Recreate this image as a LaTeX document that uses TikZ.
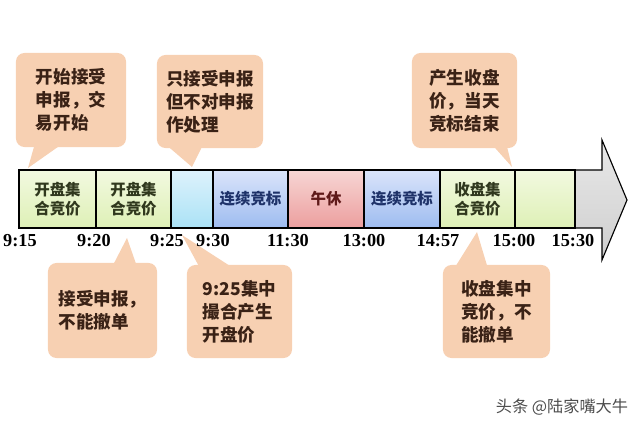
\documentclass[tikz,border=0pt]{standalone}
\usepackage{fontspec}
\setmainfont{Liberation Serif}
\newfontfamily\cjk{Noto Sans CJK SC}
\usetikzlibrary{positioning, calc}
\definecolor{peach}{RGB}{247,208,178}
\definecolor{calltext}{RGB}{58,34,22}
\definecolor{greentext}{RGB}{48,56,30}
\definecolor{bluetext}{RGB}{30,50,105}
\definecolor{redtext}{RGB}{95,25,25}
\tikzstyle{callout} = [rectangle, rounded corners=6pt, align=left, fill=peach, text=calltext, font=\cjk\bfseries\fontsize{12.5}{16.3}\selectfont]
\tikzstyle{pointer} = [fill=peach]
\tikzstyle{seg} = [rectangle, draw=black, thick, minimum height=1.45cm, align=center, font=\cjk\bfseries\fontsize{11}{14}\selectfont]
\tikzstyle{green} = [top color={rgb,255:red,242;green,249;blue,224}, bottom color={rgb,255:red,222;green,240;blue,182}, text=greentext]
\tikzstyle{cyan} = [top color={rgb,255:red,222;green,242;blue,252}, bottom color={rgb,255:red,170;green,226;blue,246}]
\tikzstyle{blue} = [top color={rgb,255:red,218;green,228;blue,250}, bottom color={rgb,255:red,158;green,188;blue,240}, text=bluetext]
\tikzstyle{pink} = [top color={rgb,255:red,247;green,214;blue,212}, bottom color={rgb,255:red,236;green,158;blue,158}, text=redtext]
\tikzstyle{clock} = [font=\bfseries\fontsize{13}{13}\selectfont, text=black]

\begin{document}
\begin{tikzpicture}[x=0.025cm, y=-0.025cm]
        \useasboundingbox (0,0) rectangle (640,427);

        % timeline arrow
        \draw [thick, top color=gray!18, bottom color=gray!38] (19,170) -- (602,170) -- (602,140) -- (627,200) -- (602,260) -- (602,228) -- (19,228) -- cycle;

        \node (s1) [seg, green, minimum width=1.925cm] at (57.5,199) {开盘集\\合竞价};
        \node (s2) [seg, green, minimum width=1.875cm] at (133.5,199) {开盘集\\合竞价};
        \node (s3) [seg, cyan, minimum width=1.05cm] at (192,199) {};
        \node (s4) [seg, blue, minimum width=1.875cm] at (250.5,199) {连续竞标};
        \node (s5) [seg, pink, minimum width=1.9cm] at (326,199) {午休};
        \node (s6) [seg, blue, minimum width=1.9cm] at (402,199) {连续竞标};
        \node (s7) [seg, green, minimum width=1.875cm] at (477.5,199) {收盘集\\合竞价};
        \node (s8) [seg, green, minimum width=1.5cm] at (545,199) {};

        % callouts above
        \node (c1) [callout, minimum width=2.75cm, minimum height=2.35cm] at (71,100) {开始接受\\申报，交\\易开始};
        \node (c2) [callout, minimum width=2.65cm, minimum height=2.325cm] at (210,101.5) {只接受申报\\但不对申报\\作处理};
        \node (c3) [callout, minimum width=2.625cm, minimum height=2.375cm] at (464.5,100.5) {产生收盘\\价，当天\\竞标结束};
        \coordinate (p1) at (28,168);
        \coordinate (p2) at (192,167);
        \coordinate (p3) at (512,167);
        \fill [pointer] ($(c1.south west)+(19,-3)$) -- (p1) -- ($(c1.south west)+(46,-3)$) -- cycle;
        \fill [pointer] ($(c2.south west)+(10,-3)$) -- (p2) -- ($(c2.south west)+(46,-3)$) -- cycle;
        \fill [pointer] ($(c3.south west)+(81,-3)$) -- (p3) -- ($(c3.south west)+(95,-3)$) -- cycle;

        % callouts below
        \node (c4) [callout, minimum width=2.725cm, minimum height=2.375cm] at (102.5,310.5) {接受申报，\\不能撤单};
        \node (c5) [callout, minimum width=2.625cm, minimum height=2.325cm] at (239.5,311.5) {9:25集中\\撮合产生\\开盘价};
        \node (c6) [callout, minimum width=2.675cm, minimum height=2.325cm] at (496.5,311.5) {收盘集中\\竞价，不\\能撤单};
        \coordinate (p4) at (127,238);
        \coordinate (p5) at (182,235);
        \coordinate (p6) at (477,232);
        \fill [pointer] ($(c4.north west)+(65,3)$) -- (p4) -- ($(c4.north west)+(89,3)$) -- cycle;
        \fill [pointer] ($(c5.north west)+(13,3)$) -- (p5) -- ($(c5.north west)+(46,3)$) -- cycle;
        \fill [pointer] ($(c6.north west)+(12,3)$) -- (p6) -- ($(c6.north west)+(45,3)$) -- cycle;

        % times
        \node (t915) [clock] at (20,241) {9:15};
        \node (t920) [clock] at (94,241) {9:20};
        \node (t925) [clock] at (167,241) {9:25};
        \node (t930) [clock] at (213,241) {9:30};
        \node (t1130) [clock] at (288,241) {11:30};
        \node (t1300) [clock] at (364,241) {13:00};
        \node (t1457) [clock] at (438,241) {14:57};
        \node (t1500) [clock] at (514,241) {15:00};
        \node (t1530) [clock] at (573,241) {15:30};

        \node (mark) [font=\cjk\fontsize{11.5}{12}\selectfont, text=black!70] at (562,407) {头条 @陆家嘴大牛};
\end{tikzpicture}
\end{document}
